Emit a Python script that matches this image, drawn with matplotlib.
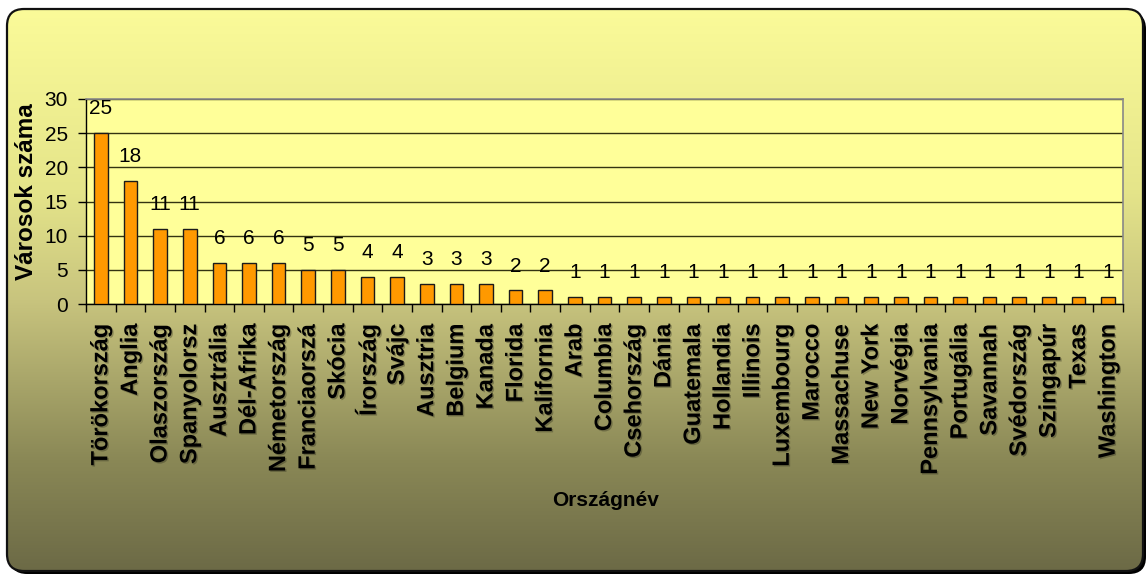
import numpy as np
import matplotlib
matplotlib.use("Agg")
import matplotlib.pyplot as plt
from matplotlib.patches import FancyBboxPatch
import matplotlib.patheffects as pe

orszagok = ["Törökország", "Anglia", "Olaszország", "Spanyolorsz", "Ausztrália",
            "Dél-Afrika", "Németország", "Franciaorszá", "Skócia", "Írország",
            "Svájc", "Ausztria", "Belgium", "Kanada", "Florida", "Kalifornia",
            "Arab", "Columbia", "Csehország", "Dánia", "Guatemala", "Hollandia",
            "Illinois", "Luxembourg", "Marocco", "Massachuse", "New York",
            "Norvégia", "Pennsylvania", "Portugália", "Savannah", "Svédország",
            "Szingapúr", "Texas", "Washington"]
varosok = [25, 18, 11, 11, 6, 6, 6, 5, 5, 4, 4, 3, 3, 3, 2, 2,
           1, 1, 1, 1, 1, 1, 1, 1, 1, 1, 1, 1, 1, 1, 1, 1, 1, 1, 1]
y_ticks = [0, 5, 10, 15, 20, 25, 30]

plt.rcParams['font.family'] = ['Liberation Sans', 'DejaVu Sans']

W, H = 1146, 575
fig = plt.figure(figsize=(W / 100, H / 100), dpi=100)
fig.patch.set_facecolor("white")

# background frame with gradient (pixel coordinates)
bg = fig.add_axes([0, 0, 1, 1])
bg.set_xlim(0, W)
bg.set_ylim(0, H)
bg.axis("off")

x0, x1 = 7, 1143
top, bottom = 9, 571
shadow = FancyBboxPatch((x0 + 3, H - bottom - 3), x1 - x0, bottom - top,
                        boxstyle="round,pad=0,rounding_size=17",
                        facecolor="black", edgecolor="none")
bg.add_patch(shadow)
frame = FancyBboxPatch((x0, H - bottom), x1 - x0, bottom - top,
                       boxstyle="round,pad=0,rounding_size=17",
                       facecolor="none", edgecolor="#111111", lw=1.6, zorder=3)
bg.add_patch(frame)

stop_y = [9, 190, 300, 460, 571]
stop_r = [251, 229, 200, 138, 108]
stop_g = [251, 229, 196, 136, 106]
stop_b = [153, 138, 126, 86, 70]
yy = np.arange(top, bottom + 1)
grad = np.stack([np.interp(yy, stop_y, stop_r),
                 np.interp(yy, stop_y, stop_g),
                 np.interp(yy, stop_y, stop_b)], axis=1) / 255.0
img = bg.imshow(grad[:, None, :], extent=[x0, x1, H - bottom, H - top],
                aspect="auto", zorder=1)
img.set_clip_path(frame)

# main chart
pl, pr, pt, pb = 86, 1123, 99, 304
ax = fig.add_axes([pl / W, (H - pb) / H, (pr - pl) / W, (pb - pt) / H])
ax.set_facecolor("#FFFF99")

x = np.arange(len(orszagok))
ax.bar(x, varosok, width=0.46, color="#FF9900", edgecolor="#1a1a1a", lw=1.0, zorder=3)

for xi, v in zip(x, varosok):
    ax.annotate(str(v), (xi, v), xytext=(0, 13.5), textcoords="offset points",
                ha="center", va="baseline", fontsize=15, color="black", zorder=4)

ax.set_xlim(-0.5, len(orszagok) - 0.5)
ax.set_ylim(0, 30)
ax.set_yticks(y_ticks)
ax.tick_params(axis="y", labelsize=15, length=6, width=1, direction="out", pad=7)
ax.yaxis.grid(True, color="#333311", lw=1.0, zorder=1)

ax.set_xticks(x)
ax.set_xticklabels(orszagok, rotation=90, fontsize=17, fontweight="bold",
                   va="top", ha="center")
ax.set_xticks(np.arange(-0.5, len(orszagok)), minor=True)
ax.tick_params(axis="x", which="major", length=0, pad=14)
ax.tick_params(axis="x", which="minor", length=6, width=1, direction="out")
for lab in ax.get_xticklabels():
    lab.set_path_effects([pe.withSimplePatchShadow(offset=(1, -1), shadow_rgbFace="black", alpha=0.25)])

for s in ["top", "right"]:
    ax.spines[s].set_color("#888888")
    ax.spines[s].set_linewidth(1.2)
for s in ["left", "bottom"]:
    ax.spines[s].set_color("black")
    ax.spines[s].set_linewidth(1.0)

fig.text(27 / W, 1 - 192 / H, "Városok száma", rotation=90, ha="center", va="center",
         fontsize=17.5, fontweight="bold")
fig.text(606 / W, 1 - 500 / H, "Országnév", ha="center", va="center",
         fontsize=15, fontweight="bold")

fig.savefig("out.png", dpi=100)
